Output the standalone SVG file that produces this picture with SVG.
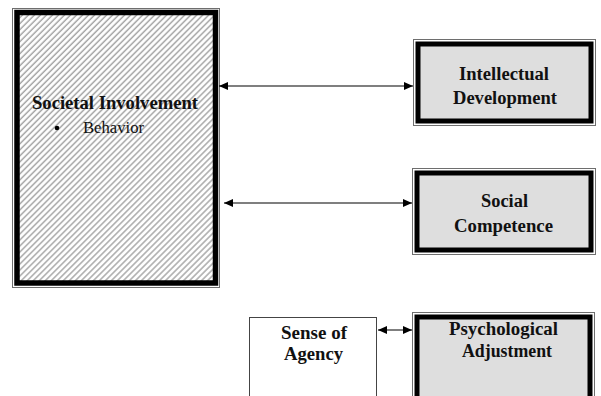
<svg xmlns="http://www.w3.org/2000/svg" width="601" height="396" viewBox="0 0 601 396">
<style>
.outer{fill:none;stroke:#6e6e6e;stroke-width:1}
.band{stroke:#000;stroke-width:5}
.gray{fill:#dedede}
.lbl{font-family:"Liberation Serif","Times New Roman",serif;font-weight:bold;font-size:18px;text-anchor:middle;fill:#111}
.reg{font-family:"Liberation Serif","Times New Roman",serif;font-size:16.5px;fill:#111}
.conn{stroke:#000;stroke-width:1.2;fill:none;marker-start:url(#ah);marker-end:url(#ah)}
</style>
<defs>
<pattern id="hatch" patternUnits="userSpaceOnUse" width="4.25" height="4.25" patternTransform="rotate(45)">
<rect width="4.25" height="4.25" fill="#fff"/>
<line x1="1" y1="0" x2="1" y2="4.25" stroke="#a8a8a8" stroke-width="1.5"/>
</pattern>
<marker id="ah" markerUnits="userSpaceOnUse" markerWidth="10" markerHeight="8" refX="9" refY="4" orient="auto-start-reverse">
<path d="M0,0 L9,4 L0,8 Z" fill="#000"/>
</marker>
</defs>
<g id="societal">
<rect class="outer" x="12.5" y="8.5" width="207" height="279"/>
<rect x="17" y="12.5" width="198.5" height="270.5" fill="url(#hatch)" stroke="#000" stroke-width="5.5"/>
<text class="lbl" x="115" y="109" textLength="166" lengthAdjust="spacingAndGlyphs">Societal Involvement</text>
<circle cx="57" cy="128" r="2.3" fill="#000"/>
<text class="reg" x="83" y="133" textLength="61" lengthAdjust="spacingAndGlyphs">Behavior</text>
</g>
<g id="intellectual">
<rect class="outer" x="413.5" y="39.5" width="182" height="86"/>
<rect class="band gray" x="418" y="44" width="173" height="77"/>
<text class="lbl" x="504" y="80" textLength="90" lengthAdjust="spacingAndGlyphs">Intellectual</text>
<text class="lbl" x="505" y="104" textLength="104" lengthAdjust="spacingAndGlyphs">Development</text>
</g>
<g id="social">
<rect class="outer" x="412.5" y="168.5" width="183" height="86"/>
<rect class="band gray" x="417" y="173" width="174" height="77"/>
<text class="lbl" x="504.5" y="207" textLength="47" lengthAdjust="spacingAndGlyphs">Social</text>
<text class="lbl" x="503.5" y="232" textLength="99" lengthAdjust="spacingAndGlyphs">Competence</text>
</g>
<g id="psychological">
<rect class="outer" x="412.5" y="312.5" width="182" height="100"/>
<rect class="band gray" x="417" y="317" width="173" height="100"/>
<text class="lbl" x="503.5" y="335" textLength="109" lengthAdjust="spacingAndGlyphs">Psychological</text>
<text class="lbl" x="507" y="357" textLength="90" lengthAdjust="spacingAndGlyphs">Adjustment</text>
</g>
<g id="agency">
<rect x="249.5" y="317.5" width="127" height="100" fill="#fff" stroke="#444" stroke-width="1"/>
<text class="lbl" x="314" y="339" textLength="66" lengthAdjust="spacingAndGlyphs">Sense of</text>
<text class="lbl" x="313.5" y="360" textLength="59" lengthAdjust="spacingAndGlyphs">Agency</text>
</g>
<g id="connectors">
<line class="conn" x1="219" y1="86" x2="413" y2="86"/>
<line class="conn" x1="224" y1="203" x2="412" y2="203"/>
<line class="conn" x1="378" y1="330" x2="412" y2="330"/>
</g>
</svg>
